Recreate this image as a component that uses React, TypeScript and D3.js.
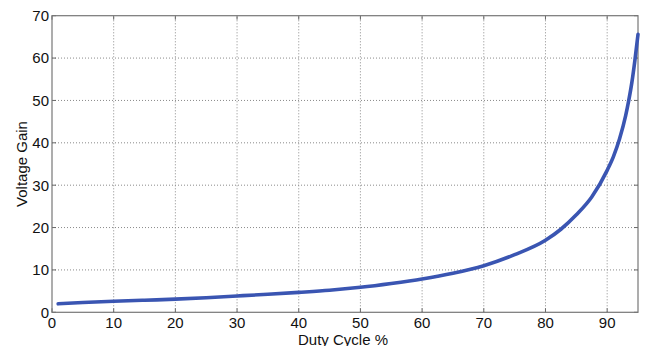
import React from "react";
import * as d3 from "d3";

const dutyCycle = [1, 5, 10, 15, 20, 25, 30, 35, 40, 45, 50, 55, 60, 65, 70, 75, 80, 82.5, 85, 87.5, 90, 91, 92, 93, 93.5, 94, 94.5, 95];
const voltageGain = [2.0, 2.3, 2.6, 2.85, 3.1, 3.45, 3.85, 4.25, 4.7, 5.2, 5.9, 6.8, 7.85, 9.2, 11.0, 13.6, 17.0, 19.6, 23.0, 27.2, 33.5, 36.7, 40.9, 46.4, 50.0, 54.2, 59.5, 65.6];
const xTicks = [0, 10, 20, 30, 40, 50, 60, 70, 80, 90];
const yTicks = [0, 10, 20, 30, 40, 50, 60, 70];
const xLabel = "Duty Cycle %";
const yLabel = "Voltage Gain";

const W = 647;
const H = 346;
const margin = { left: 52, right: 9, top: 15.7, bottom: 33.7 };

export default function App() {
  const x = d3.scaleLinear().domain([0, 95]).range([margin.left, W - margin.right]);
  const y = d3.scaleLinear().domain([0, 70]).range([H - margin.bottom, margin.top]);
  const pts = dutyCycle.map((d, i) => [d, voltageGain[i]] as [number, number]);
  const line = d3
    .line<[number, number]>()
    .x((d) => x(d[0]))
    .y((d) => y(d[1]))
    .curve(d3.curveMonotoneX);
  const x0 = x(0), x1 = x(95), y0 = y(0), y1 = y(70);
  const tl = 4;
  const font = "'Liberation Sans', Arial, sans-serif";
  return (
    <svg
      width={W}
      height={H}
      style={{ position: "absolute", left: 0, top: 0, background: "#fff" }}
      fontFamily={font}
    >
      <rect x={0} y={0} width={W} height={H} fill="#fff" />
      {/* grid */}
      {xTicks.slice(1).map((t) => (
        <line key={"gx" + t} x1={x(t)} x2={x(t)} y1={y0} y2={y1} stroke="#8a8a8a" strokeWidth={1} strokeDasharray="1,2" />
      ))}
      {yTicks.slice(1, -1).map((t) => (
        <line key={"gy" + t} x1={x0} x2={x1} y1={y(t)} y2={y(t)} stroke="#8a8a8a" strokeWidth={1} strokeDasharray="1,2" />
      ))}
      {/* ticks inside on all sides */}
      {xTicks.map((t) => (
        <g key={"tx" + t} stroke="#666" strokeWidth={1}>
          <line x1={x(t)} x2={x(t)} y1={y0} y2={y0 - tl} />
          <line x1={x(t)} x2={x(t)} y1={y1} y2={y1 + tl} />
        </g>
      ))}
      {yTicks.map((t) => (
        <g key={"ty" + t} stroke="#666" strokeWidth={1}>
          <line x1={x0} x2={x0 + tl} y1={y(t)} y2={y(t)} />
          <line x1={x1} x2={x1 - tl} y1={y(t)} y2={y(t)} />
        </g>
      ))}
      {/* box */}
      <rect x={x0} y={y1} width={x1 - x0} height={y0 - y1} fill="none" stroke="#777" strokeWidth={1.2} />
      {/* curve */}
      <path d={line(pts) || ""} fill="none" stroke="#3a55b2" strokeWidth={3.6} strokeLinecap="round" />
      {/* tick labels */}
      {xTicks.map((t) => (
        <text key={"lx" + t} x={x(t)} y={y0 + 15.5} textAnchor="middle" fontSize={15} fill="#111">
          {t}
        </text>
      ))}
      {yTicks.map((t) => (
        <text key={"ly" + t} x={x0 - 3} y={y(t) + 5.4} textAnchor="end" fontSize={15} fill="#111">
          {t}
        </text>
      ))}
      <text x={(x0 + x1) / 2 - 2} y={H - 1.5} textAnchor="middle" fontSize={15} fill="#111">
        {xLabel}
      </text>
      <text
        transform={`translate(${26.5},${(y0 + y1) / 2}) rotate(-90)`}
        textAnchor="middle"
        fontSize={15}
        fill="#111"
      >
        {yLabel}
      </text>
    </svg>
  );
}
